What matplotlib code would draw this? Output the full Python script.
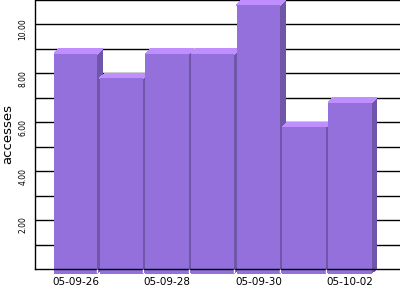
import numpy as np
import matplotlib
matplotlib.use('Agg')
import matplotlib.pyplot as plt
from matplotlib.patches import Polygon

''' data '''
days = ['05-09-26', '05-09-27', '05-09-28', '05-09-29',
        '05-09-30', '05-10-01', '05-10-02']
accesses = [9, 8, 9, 9, 11, 6, 7]
yticks = [2, 4, 6, 8, 10]

''' style '''
c_front = '#9370db'
c_top = '#c08fff'
c_side = '#6f56a8'

w = 0.952    # front face width (bar pitch = 1)
dx = 0.11    # depth offset in x (data units)
dy = 0.2     # depth offset in y (data units)

fig = plt.figure(figsize=(4, 3), dpi=100)
ax = fig.add_axes([35/400, 31/300, 365/400, 269/300])
ax.set_xlim(-0.916, 7.076)
ax.set_ylim(0, 11)
ax.set_axisbelow(False)

# back wall grid
for g in range(1, 12):
    ax.axhline(g, color='black', lw=1.0, zorder=0.5)

x = np.arange(len(days))
for i, v in enumerate(accesses):
    x0 = x[i] - 0.5
    x1 = x0 + w
    z = 1 + i * 0.01
    # side and top overlap the front a little so no seams show
    side = Polygon([(x1 - 0.02, -dy), (x1 - 0.02, v - dy), (x1 + dx, v),
                    (x1 + dx, 0)],
                   closed=True, fc=c_side, lw=0, zorder=z, clip_on=False,
                   antialiased=False)
    top = Polygon([(x0, v - dy - 0.03), (x0, v - dy), (x0 + dx, v),
                   (x1 + dx, v), (x1, v - dy), (x1, v - dy - 0.03)],
                  closed=True, fc=c_top, lw=0, zorder=z, clip_on=False,
                  antialiased=False)
    ax.add_patch(side)
    ax.add_patch(top)
    ax.bar(x0, v, width=w, bottom=-dy, align='edge', color=c_front,
           lw=0, zorder=z + 0.001, clip_on=False, antialiased=False)

# labels sit on the front plane
ax.set_yticks([t - dy for t in yticks])
ax.set_yticklabels(['%.2f' % t for t in yticks], rotation=90,
                   fontsize=5.5, va='center')
ax.tick_params(axis='y', length=0, pad=5.5)

ax.set_xticks([x[i] - 0.5 + w / 2 for i in range(0, len(days), 2)])
ax.set_xticklabels([days[i] for i in range(0, len(days), 2)], fontsize=7.5)
ax.tick_params(axis='x', which='major', length=0, pad=5.5)
ax.set_xticks([x[i] - 0.5 + w for i in range(len(days) - 1)], minor=True)
ax.tick_params(axis='x', which='minor', length=3, width=1,
               color='white', direction='out')

ax.set_ylabel('accesses', fontsize=9.5, labelpad=3)

for s in ['top', 'right']:
    ax.spines[s].set_visible(False)
for s in ['left', 'bottom']:
    ax.spines[s].set_color('black')
    ax.spines[s].set_linewidth(1.0)

fig.savefig('out.png', dpi=100)
